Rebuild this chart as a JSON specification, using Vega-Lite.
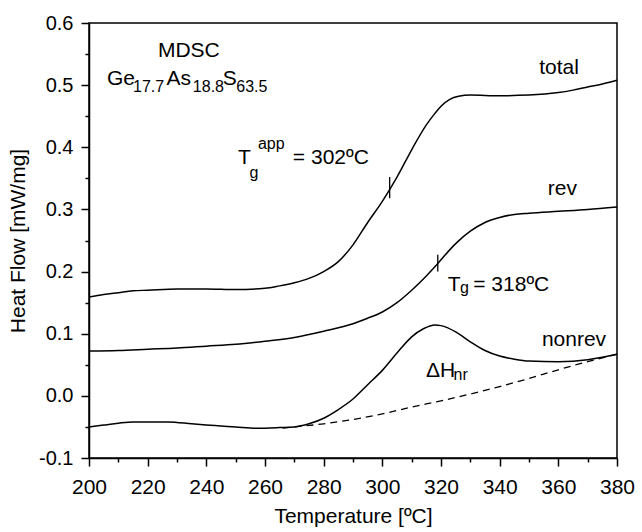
{
  "$schema": "https://vega.github.io/schema/vega-lite/v6.json",
  "width": 528,
  "height": 435,
  "autosize": {"type": "none"},
  "padding": {"left": 89, "top": 23, "right": 25, "bottom": 74},
  "background": "white",
  "config": {
    "font": "Liberation Sans",
    "view": {"stroke": "black", "strokeWidth": 1.5},
    "axis": {
      "grid": false,
      "domainColor": "black",
      "domainWidth": 1.5,
      "tickColor": "black",
      "tickWidth": 1.5,
      "labelColor": "black",
      "titleColor": "black",
      "titleFontWeight": "normal",
      "titleFontSize": 21,
      "labelOverlap": false,
      "labelBound": false,
      "labelFlush": false
    }
  },
  "datasets": {
    "curves": [
      {"s": "total", "T": 200, "v": 0.159}, {"s": "total", "T": 205, "v": 0.163}, {"s": "total", "T": 210, "v": 0.166},
      {"s": "total", "T": 215, "v": 0.169}, {"s": "total", "T": 220, "v": 0.170}, {"s": "total", "T": 230, "v": 0.172},
      {"s": "total", "T": 240, "v": 0.172}, {"s": "total", "T": 250, "v": 0.171}, {"s": "total", "T": 260, "v": 0.173},
      {"s": "total", "T": 265, "v": 0.177}, {"s": "total", "T": 270, "v": 0.182}, {"s": "total", "T": 275, "v": 0.189},
      {"s": "total", "T": 280, "v": 0.200}, {"s": "total", "T": 285, "v": 0.216}, {"s": "total", "T": 290, "v": 0.243},
      {"s": "total", "T": 295, "v": 0.279}, {"s": "total", "T": 300, "v": 0.313}, {"s": "total", "T": 305, "v": 0.352},
      {"s": "total", "T": 310, "v": 0.396}, {"s": "total", "T": 315, "v": 0.436}, {"s": "total", "T": 318, "v": 0.455},
      {"s": "total", "T": 320, "v": 0.466}, {"s": "total", "T": 323, "v": 0.477}, {"s": "total", "T": 326, "v": 0.482},
      {"s": "total", "T": 330, "v": 0.484}, {"s": "total", "T": 340, "v": 0.483}, {"s": "total", "T": 350, "v": 0.484},
      {"s": "total", "T": 360, "v": 0.488}, {"s": "total", "T": 365, "v": 0.492}, {"s": "total", "T": 370, "v": 0.497},
      {"s": "total", "T": 375, "v": 0.502}, {"s": "total", "T": 380, "v": 0.508},
      {"s": "rev", "T": 200, "v": 0.072}, {"s": "rev", "T": 210, "v": 0.073}, {"s": "rev", "T": 220, "v": 0.075},
      {"s": "rev", "T": 230, "v": 0.077}, {"s": "rev", "T": 240, "v": 0.080}, {"s": "rev", "T": 250, "v": 0.083},
      {"s": "rev", "T": 260, "v": 0.088}, {"s": "rev", "T": 270, "v": 0.094}, {"s": "rev", "T": 280, "v": 0.104},
      {"s": "rev", "T": 290, "v": 0.116}, {"s": "rev", "T": 295, "v": 0.125}, {"s": "rev", "T": 300, "v": 0.135},
      {"s": "rev", "T": 305, "v": 0.150}, {"s": "rev", "T": 310, "v": 0.170}, {"s": "rev", "T": 315, "v": 0.193},
      {"s": "rev", "T": 318, "v": 0.208}, {"s": "rev", "T": 320, "v": 0.219}, {"s": "rev", "T": 325, "v": 0.245},
      {"s": "rev", "T": 330, "v": 0.265}, {"s": "rev", "T": 335, "v": 0.279}, {"s": "rev", "T": 340, "v": 0.287},
      {"s": "rev", "T": 345, "v": 0.292}, {"s": "rev", "T": 350, "v": 0.294}, {"s": "rev", "T": 360, "v": 0.297},
      {"s": "rev", "T": 370, "v": 0.300}, {"s": "rev", "T": 380, "v": 0.304},
      {"s": "nonrev", "T": 200, "v": -0.050}, {"s": "nonrev", "T": 205, "v": -0.047}, {"s": "nonrev", "T": 210, "v": -0.044},
      {"s": "nonrev", "T": 215, "v": -0.042}, {"s": "nonrev", "T": 220, "v": -0.042}, {"s": "nonrev", "T": 227, "v": -0.042},
      {"s": "nonrev", "T": 235, "v": -0.045}, {"s": "nonrev", "T": 240, "v": -0.047}, {"s": "nonrev", "T": 250, "v": -0.050},
      {"s": "nonrev", "T": 257, "v": -0.052}, {"s": "nonrev", "T": 265, "v": -0.051}, {"s": "nonrev", "T": 270, "v": -0.050},
      {"s": "nonrev", "T": 275, "v": -0.045}, {"s": "nonrev", "T": 280, "v": -0.036}, {"s": "nonrev", "T": 285, "v": -0.022},
      {"s": "nonrev", "T": 290, "v": -0.005}, {"s": "nonrev", "T": 295, "v": 0.018}, {"s": "nonrev", "T": 300, "v": 0.041},
      {"s": "nonrev", "T": 305, "v": 0.069}, {"s": "nonrev", "T": 310, "v": 0.095}, {"s": "nonrev", "T": 314, "v": 0.108},
      {"s": "nonrev", "T": 318, "v": 0.114}, {"s": "nonrev", "T": 320, "v": 0.113}, {"s": "nonrev", "T": 325, "v": 0.103},
      {"s": "nonrev", "T": 330, "v": 0.087}, {"s": "nonrev", "T": 335, "v": 0.073}, {"s": "nonrev", "T": 340, "v": 0.064},
      {"s": "nonrev", "T": 345, "v": 0.059}, {"s": "nonrev", "T": 350, "v": 0.056}, {"s": "nonrev", "T": 360, "v": 0.055},
      {"s": "nonrev", "T": 370, "v": 0.058}, {"s": "nonrev", "T": 375, "v": 0.062}, {"s": "nonrev", "T": 380, "v": 0.067}
    ],
    "base": [
      {"T": 266, "v": -0.052}, {"T": 270, "v": -0.050}, {"T": 280, "v": -0.045}, {"T": 290, "v": -0.038},
      {"T": 300, "v": -0.029}, {"T": 310, "v": -0.018}, {"T": 320, "v": -0.008}, {"T": 330, "v": 0.003},
      {"T": 340, "v": 0.015}, {"T": 350, "v": 0.028}, {"T": 360, "v": 0.042}, {"T": 370, "v": 0.055},
      {"T": 380, "v": 0.067}
    ],
    "tgmarks": [
      {"T": 302.5, "v": 0.318, "v2": 0.352},
      {"T": 318.9, "v": 0.200, "v2": 0.227}
    ],
    "main": [
      {"T": 223.5, "v": 0.546, "text": "MDSC"},
      {"T": 206.1, "v": 0.500, "text": "Ge"},
      {"T": 226.4, "v": 0.500, "text": "As"},
      {"T": 245.6, "v": 0.500, "text": "S"},
      {"T": 353.5, "v": 0.518, "text": "total"},
      {"T": 356.4, "v": 0.323, "text": "rev"},
      {"T": 354.4, "v": 0.0805, "text": "nonrev"},
      {"T": 314.9, "v": 0.031, "text": "ΔH"},
      {"T": 250.8, "v": 0.373, "text": "T"},
      {"T": 269.5, "v": 0.373, "text": "= 302ºC"},
      {"T": 322.3, "v": 0.169, "text": "T"},
      {"T": 331.0, "v": 0.169, "text": "= 318ºC"}
    ],
    "small": [
      {"T": 215.0, "v": 0.489, "text": "17.7"},
      {"T": 235.4, "v": 0.489, "text": "18.8"},
      {"T": 250.2, "v": 0.489, "text": "63.5"},
      {"T": 324.3, "v": 0.0253, "text": "nr"},
      {"T": 254.7, "v": 0.3506, "text": "g"},
      {"T": 257.6, "v": 0.3968, "text": "app"},
      {"T": 326.5, "v": 0.165, "text": "g"}
    ]
  },
  "encoding": {
    "x": {
      "field": "T",
      "type": "quantitative",
      "scale": {"domain": [200, 380], "nice": false, "zero": false},
      "axis": {
        "title": "Temperature [ºC]",
        "values": [200, 210, 220, 230, 240, 250, 260, 270, 280, 290, 300, 310, 320, 330, 340, 350, 360, 370, 380],
        "labelExpr": "datum.value % 20 === 0 ? datum.label : ''",
        "tickSize": {"condition": {"test": "datum.value % 20 !== 0", "value": 4}, "value": 8},
        "labelFontSize": 21,
        "labelPadding": 10,
        "titlePadding": 8
      }
    },
    "y": {
      "field": "v",
      "type": "quantitative",
      "scale": {"domain": [-0.1, 0.6], "nice": false, "zero": false},
      "axis": {
        "title": "Heat Flow [mW/mg]",
        "values": [-0.1, -0.05, 0, 0.05, 0.1, 0.15, 0.2, 0.25, 0.3, 0.35, 0.4, 0.45, 0.5, 0.55, 0.6],
        "labelExpr": "round(abs(datum.value) * 20) % 2 === 1 ? '' : replace(format(datum.value, '.1f'), '−', '-')",
        "tickSize": {"condition": {"test": "round(abs(datum.value) * 20) % 2 === 1", "value": 4}, "value": 8},
        "labelFontSize": 20,
        "labelPadding": 8,
        "titlePadding": 10
      }
    }
  },
  "layer": [
    {
      "data": {"name": "curves"},
      "mark": {"type": "line", "color": "black", "strokeWidth": 1.5, "interpolate": "monotone"},
      "encoding": {"detail": {"field": "s"}}
    },
    {
      "data": {"name": "base"},
      "mark": {"type": "line", "color": "black", "strokeWidth": 1.3, "strokeDash": [7, 5], "interpolate": "monotone"},
      "encoding": {}
    },
    {
      "data": {"name": "tgmarks"},
      "mark": {"type": "rule", "color": "black", "strokeWidth": 1.3},
      "encoding": {"y2": {"field": "v2"}}
    },
    {
      "data": {"name": "main"},
      "mark": {"type": "text", "align": "left", "baseline": "alphabetic", "fontSize": 21, "color": "black"},
      "encoding": {"text": {"field": "text"}}
    },
    {
      "data": {"name": "small"},
      "mark": {"type": "text", "align": "left", "baseline": "alphabetic", "fontSize": 16, "color": "black"},
      "encoding": {"text": {"field": "text"}}
    }
  ]
}
